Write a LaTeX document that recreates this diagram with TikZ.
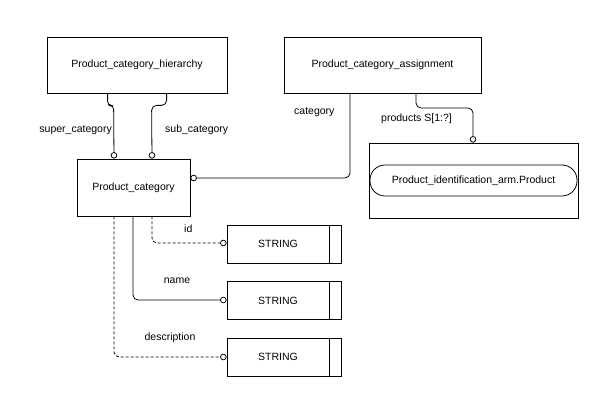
\documentclass[tikz,border=0pt]{standalone}
\usepackage{fontspec}
\setmainfont{Liberation Sans}
\usetikzlibrary{arrows.meta,calc}
\begin{document}
\begin{tikzpicture}[x=1pt,y=-1pt,
  font=\fontsize{10.5}{12}\selectfont,
  ent/.style={draw=black,line width=0.8pt,inner sep=0pt,fill=white},
  conn/.style={line width=0.8pt,draw=black,rounded corners=5pt,-{Circle[open,fill=white,length=6.5pt,width=6.5pt]}},
  dsh/.style={dash pattern=on 3pt off 2pt},
  lbl/.style={inner sep=0pt}]
\useasboundingbox (0,0) rectangle (614,406);
\node[ent,minimum width=180,minimum height=56] (hier) at (137,65) {Product\_category\_hierarchy};
\node[ent,minimum width=197,minimum height=56] (asg) at (382.5,65) {Product\_category\_assignment};
\node[ent,minimum width=113,minimum height=57] (pc) at (133.5,187.5) {Product\_category};
\node[ent,minimum width=209,minimum height=75] (pia) at (473.5,180.5) {};
\node[ent,rounded corners=15pt,minimum width=207,minimum height=31] (pill) at (473.5,180.5) {Product\_identification\_arm.Product};
\foreach \n/\y in {s1/244,s2/300.5,s3/357}{
  \node[ent,minimum width=114,minimum height=38] (\n) at (284,\y) {\hspace{-12pt}STRING};
  \draw[line width=0.8pt,draw=black] ($(\n.north east)+(-12,0)$) -- ($(\n.south east)+(-12,0)$);
}
% hierarchy
\draw[conn,rounded corners=4pt] ($(hier.south west)+(61,0)$) -- ++(0,12) -- ++(6,0) -- (pc.north west -| 114,0);
\draw[conn] ($(hier.south west)+(120,0)$) -- ++(0,12) -- ++(-15,0) -- (pc.north west -| 152,0);
% category
\draw[conn] (asg.south west -| 350,0) -- (350,178) -- (pc.east |- 0,178);
% products
\draw[conn] (asg.south west -| 416,0) -- (416,108) -- (473,108) -- (pia.north west -| 473,0);
% attributes
\draw[conn,dsh] (pc.south west -| 152,0) -- (152,243) -- (s1.west |- 0,243);
\draw[conn] (pc.south west -| 133,0) -- (133,300) -- (s2.west |- 0,300);
\draw[conn,dsh] (pc.south west -| 114,0) -- (114,357) -- (s3.west |- 0,357);
% labels
\node[lbl,anchor=east] (l1) at (112,130) {super\_category};
\node[lbl,anchor=west] (l2) at (165,130) {sub\_category};
\node[lbl,anchor=west] (l3) at (294,112) {category};
\node[lbl,anchor=west] (l4) at (381,119) {products S[1:?]};
\node[lbl,anchor=west] (l5) at (184,229) {id};
\node[lbl] (l6) at (177,281) {name};
\node[lbl] (l7) at (170,338) {description};
\end{tikzpicture}
\end{document}
